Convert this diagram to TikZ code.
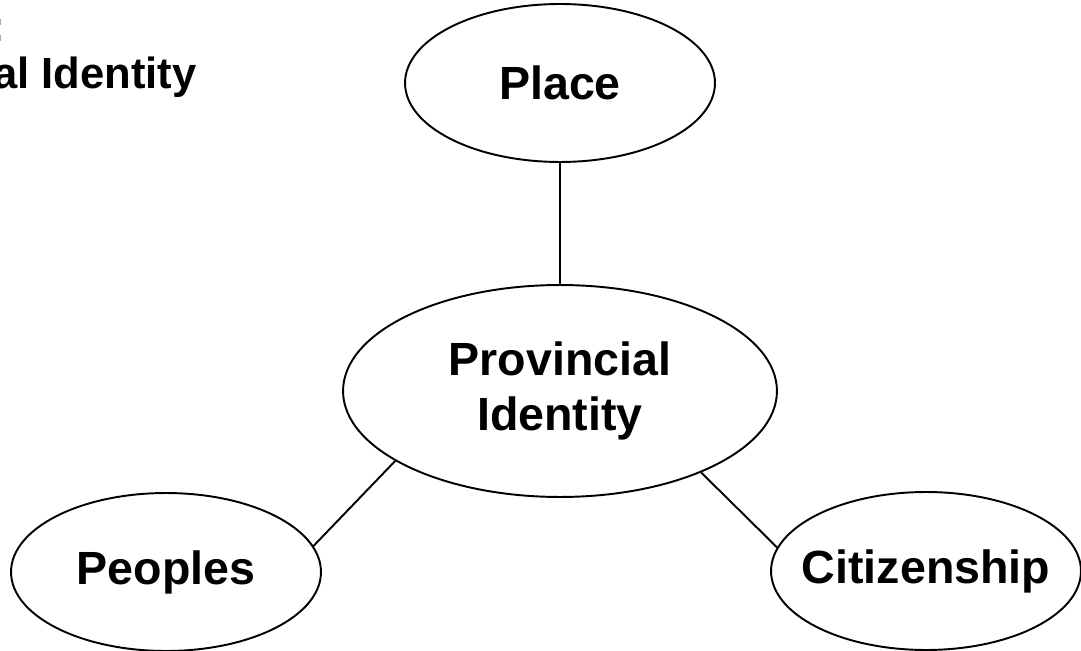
\documentclass[tikz,border=0pt]{standalone}
\usepackage{fontspec}
\setmainfont{Liberation Sans}
\usetikzlibrary{shapes.geometric}
\usetikzlibrary{calc}
\newcommand{\ovlsw}{6.2cm}
\newcommand{\ovlsh}{3.16cm}
\newcommand{\ovlbw}{8.68cm}
\newcommand{\ovlbh}{4.24cm}
\newcommand{\lblfont}{\fontsize{26.5}{31.8}\selectfont\bfseries}
\newcommand{\ttlfont}{\fontsize{24.8}{29}\selectfont\bfseries}
\tikzset{
  oval/.style={ellipse,draw,line width=1.1pt,inner sep=0pt,
    inner xsep=-0.5cm,minimum width=\ovlsw,minimum height=\ovlsh,
    font=\lblfont,align=center},
  bigoval/.style={oval,minimum width=\ovlbw,minimum height=\ovlbh},
  link/.style={line width=1.1pt},
  ttl/.style={inner sep=0pt,font=\ttlfont}
}

\begin{document}
\begin{tikzpicture}[x=0.02cm,y=-0.02cm]
  \useasboundingbox (0,0) rectangle (1081,651);

  \node (ttlb) at (197,89) [ttl,anchor=base east] {Provincial Identity};
  \node (ttla) at ($(ttlb.base west)+(0,-47)$) [ttl,anchor=base west] {Figure 1:};

  \node (place) at (560,83) [oval] {Place};
  \node (prov) at (560,391) [bigoval] {Provincial\\Identity};
  \node (peop) at (166,572) [oval] {Peoples};
  \node (citz) at (926,571) [oval] {Citizenship};

  \draw[link] (place.south) -- (prov.north);
  \draw[link] (prov.203) -- (peop.10);
  \draw[link] (prov.330) -- (citz.171);
\end{tikzpicture}
\end{document}
